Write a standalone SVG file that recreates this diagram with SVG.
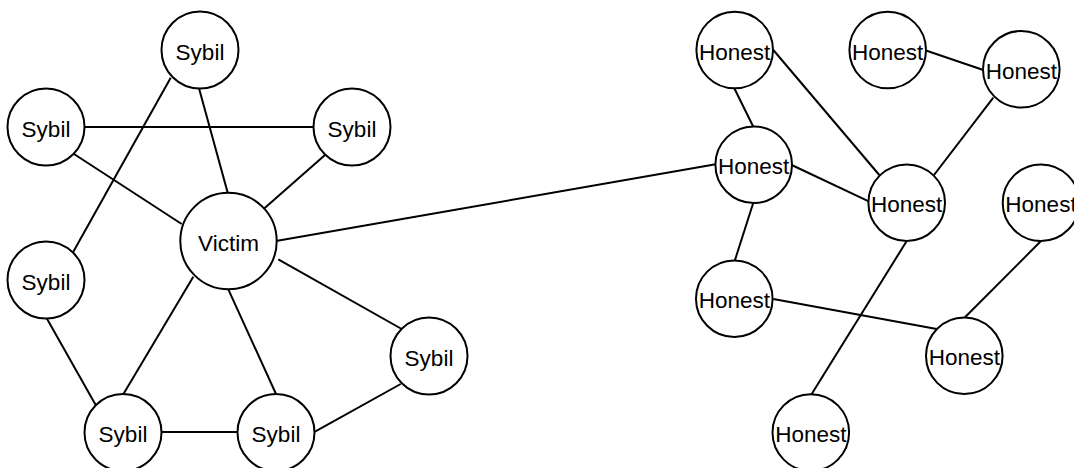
<svg xmlns="http://www.w3.org/2000/svg" width="1074" height="468" viewBox="0 0 1074 468">
<style>
.n circle{fill:#fff;stroke:#000;stroke-width:2}
.n text{font-family:"Liberation Sans",Arial,sans-serif;font-size:22.5px;fill:#000;text-anchor:middle}
#edges line{stroke:#000;stroke-width:2;fill:none}
</style>
<rect width="1074" height="468" fill="#fff"/>
<g id="edges">
<line x1="85" y1="127" x2="313.3" y2="127"/>
<line x1="74" y1="154" x2="181.7" y2="224"/>
<line x1="325" y1="155" x2="263.3" y2="209.3"/>
<line x1="199" y1="88.3" x2="227.7" y2="192.7"/>
<line x1="170.7" y1="77.7" x2="73.3" y2="251.7"/>
<line x1="276" y1="241" x2="715.7" y2="164.3"/>
<line x1="278.3" y1="259.3" x2="401.7" y2="329"/>
<line x1="193.3" y1="276.7" x2="123.3" y2="394.3"/>
<line x1="228.3" y1="289.3" x2="276" y2="394"/>
<line x1="46.7" y1="318.3" x2="95.7" y2="405"/>
<line x1="161.7" y1="432" x2="237.3" y2="432"/>
<line x1="315" y1="431.7" x2="400.7" y2="384"/>
<line x1="734.3" y1="88.3" x2="753.3" y2="126.7"/>
<line x1="773.3" y1="50" x2="879.3" y2="175"/>
<line x1="926.7" y1="50.7" x2="983.3" y2="70"/>
<line x1="993.3" y1="97.7" x2="934" y2="175"/>
<line x1="791.7" y1="165" x2="869.3" y2="201.7"/>
<line x1="753.3" y1="202.7" x2="735" y2="260"/>
<line x1="906.7" y1="241" x2="811.7" y2="394"/>
<line x1="1041" y1="241" x2="965" y2="317.3"/>
<line x1="773.3" y1="299" x2="936.7" y2="329"/>
</g>
<g id="sybil-top" class="n"><circle cx="200" cy="50" r="38.5"/><text x="200" y="59.5">Sybil</text></g>
<g id="sybil-left" class="n"><circle cx="46" cy="127" r="38.5"/><text x="46" y="136.5">Sybil</text></g>
<g id="sybil-right" class="n"><circle cx="352" cy="127" r="38.5"/><text x="352" y="136.5">Sybil</text></g>
<g id="victim" class="n"><circle cx="228.5" cy="241" r="48.2"/><text x="228.5" y="250.5">Victim</text></g>
<g id="sybil-leftbottom" class="n"><circle cx="46" cy="280" r="38.5"/><text x="46" y="289.5">Sybil</text></g>
<g id="sybil-rightbottom" class="n"><circle cx="429" cy="356" r="38.5"/><text x="429" y="365.5">Sybil</text></g>
<g id="sybil-bottom1" class="n"><circle cx="123" cy="432.5" r="38.5"/><text x="123" y="442">Sybil</text></g>
<g id="sybil-bottom2" class="n"><circle cx="276" cy="432.5" r="38.5"/><text x="276" y="442">Sybil</text></g>
<g id="honest-1" class="n"><circle cx="734.7" cy="50" r="38.3"/><text x="734.7" y="59.5">Honest</text></g>
<g id="honest-2" class="n"><circle cx="887.7" cy="50" r="38.3"/><text x="887.7" y="59.5">Honest</text></g>
<g id="honest-3" class="n"><circle cx="1021.3" cy="69.3" r="38.3"/><text x="1021.3" y="78.8">Honest</text></g>
<g id="honest-4" class="n"><circle cx="753.7" cy="164.7" r="38.3"/><text x="753.7" y="174.2">Honest</text></g>
<g id="honest-5" class="n"><circle cx="906.7" cy="202.7" r="38.3"/><text x="906.7" y="212.2">Honest</text></g>
<g id="honest-6" class="n"><circle cx="1041" cy="202.7" r="38.3"/><text x="1041" y="212.2">Honest</text></g>
<g id="honest-7" class="n"><circle cx="734.3" cy="298.7" r="38.3"/><text x="734.3" y="308.2">Honest</text></g>
<g id="honest-8" class="n"><circle cx="964.3" cy="355.8" r="38.3"/><text x="964.3" y="365.3">Honest</text></g>
<g id="honest-9" class="n"><circle cx="810.8" cy="432.5" r="38.3"/><text x="810.8" y="442">Honest</text></g>
</svg>
